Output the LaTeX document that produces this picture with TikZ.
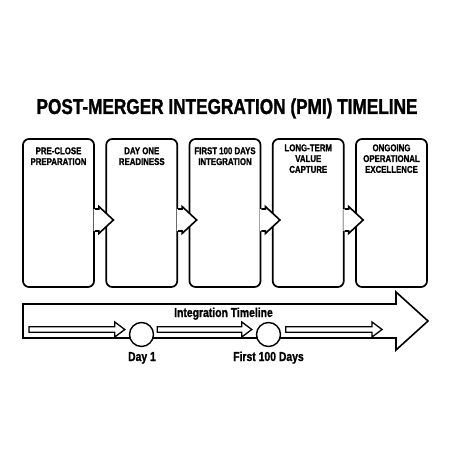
\documentclass[tikz,border=0pt]{standalone}
\usepackage{fontspec}
\setmainfont{Liberation Sans}
\newfontfamily\cond[FakeStretch=0.8,FakeBold=1.2]{Liberation Sans}
\usetikzlibrary{calc}
\newcommand\stagearrow[2]{%
  \fill[white] let \p1=(#1.east), \p2=(#2.west) in
    (\x1-1.3pt,\y1+4pt) -- (\x1+4pt,\y1+4pt) -- (\x1+4pt,\y1+6.5pt) -- (\x2+8pt,\y1-7pt)
    -- (\x1+4pt,\y1-20.5pt) -- (\x1+4pt,\y1-18pt) -- (\x1-1.3pt,\y1-18pt) -- cycle;
  \draw[connline] let \p1=(#1.east), \p2=(#2.west) in
    (\x1,\y1+4pt) -- (\x1+4pt,\y1+4pt) -- (\x1+4pt,\y1+6.5pt) -- (\x2+8pt,\y1-7pt)
    -- (\x1+4pt,\y1-20.5pt) -- (\x1+4pt,\y1-18pt) -- (\x1,\y1-18pt);}
\newcommand\flowarrow[2]{%
  \draw[smallarrow] let \p1=(#1), \p2=(#2), \p3=(axis) in
    (\x1,\y3+2.8pt) -- (\x2-10pt,\y3+2.8pt) -- (\x2-10pt,\y3+7.5pt) -- (\x2,\y3)
    -- (\x2-10pt,\y3-7.5pt) -- (\x2-10pt,\y3-2.8pt) -- (\x1,\y3-2.8pt) -- cycle;}
\begin{document}
\begin{tikzpicture}[x=1pt,y=-1pt,
  stage/.style={draw=black, line width=1.7pt, rounded corners=6pt, minimum width=71pt,
    minimum height=148pt, inner sep=0pt, fill=white},
  stagelabel/.style={font=\cond\bfseries\fontsize{9.8}{10.8}\selectfont, align=center,
    anchor=north, inner sep=0pt},
  connline/.style={draw=black, line width=1.6pt, line join=miter},
  smallarrow/.style={draw=black, line width=1.3pt, fill=white, line join=miter},
  bigarrow/.style={draw=black, line width=1.6pt, line join=miter},
  milestone/.style={circle, draw=black, line width=1.4pt, fill=white, minimum size=24pt, inner sep=0pt},
  titlestyle/.style={font=\cond\bfseries\fontsize{21.5}{24}\selectfont, anchor=base, inner sep=0pt},
  tllabel/.style={font=\cond\bfseries\fontsize{13}{15}\selectfont, anchor=base, inner sep=0pt}
]
\useasboundingbox[fill=white] (0,0) rectangle (450,470);

\node[titlestyle] (title) at (227,114) {POST-MERGER INTEGRATION (PMI) TIMELINE};

\node[stage] (b1) at (58.5,213) {};
\node[stage] (b2) at (141.75,213) {};
\node[stage] (b3) at (225,213) {};
\node[stage] (b4) at (308.25,213) {};
\node[stage] (b5) at (391.5,213) {};

\stagearrow{b1}{b2}
\stagearrow{b2}{b3}
\stagearrow{b3}{b4}
\stagearrow{b4}{b5}

\node[stagelabel] (t1) at ($(b1.north)+(0,9)$) {PRE-CLOSE\\PREPARATION};
\node[stagelabel] (t2) at ($(b2.north)+(0,9)$) {DAY ONE\\READINESS};
\node[stagelabel] (t3) at ($(b3.north)+(0,9)$) {FIRST 100 DAYS\\INTEGRATION};
\node[stagelabel] (t4) at ($(b4.north)+(0,6)$) {LONG-TERM\\VALUE\\CAPTURE};
\node[stagelabel] (t5) at ($(b5.north)+(0,6)$) {ONGOING\\OPERATIONAL\\EXCELLENCE};

\draw[bigarrow] (23,304) -- (396,304) -- (396,292) -- (428,321) -- (396,350) -- (396,338) -- (23,338) -- cycle;

\coordinate (axis) at (0,329.5);
\coordinate (s0) at (29,329.5);
\coordinate (e0) at (382,329.5);
\node[milestone] (m1) at (141.5,334.5) {};
\node[milestone] (m2) at (268.5,334.5) {};

\flowarrow{s0}{$(m1.west)+(-4,0)$}
\flowarrow{$(m1.east)+(3,0)$}{$(m2.west)+(-4,0)$}
\flowarrow{$(m2.east)+(4.5,0)$}{e0}

\node[tllabel] (tl) at (223.5,317) {Integration Timeline};
\node[tllabel] (d1) at (142,361) {Day 1};
\node[tllabel] (d100) at (268.5,361) {First 100 Days};
\end{tikzpicture}
\end{document}
